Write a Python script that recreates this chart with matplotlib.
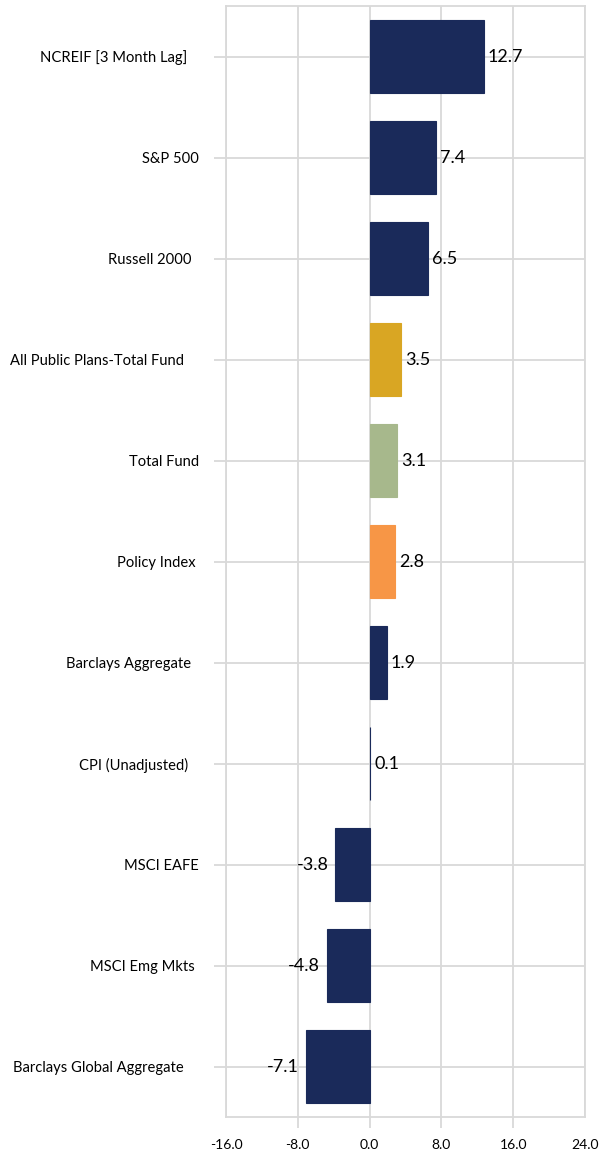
import matplotlib
matplotlib.use("Agg")
import matplotlib.pyplot as plt

# ---------------------------------------------------------------------------
# Data (top to bottom)
# ---------------------------------------------------------------------------
categories = [
    "NCREIF [3 Month Lag]   ",
    "S&P 500",
    "Russell 2000  ",
    "All Public Plans-Total Fund    ",
    "Total Fund",
    "Policy Index ",
    "Barclays Aggregate  ",
    "CPI (Unadjusted)   ",
    "MSCI EAFE",
    "MSCI Emg Mkts ",
    "Barclays Global Aggregate    ",
]
values = [12.7, 7.4, 6.5, 3.5, 3.1, 2.8, 1.9, 0.1, -3.8, -4.8, -7.1]
bar_colors = [
    "#1a2a5a", "#1a2a5a", "#1a2a5a", "#d9a623", "#a7b88c", "#f79646",
    "#1a2a5a", "#1a2a5a", "#1a2a5a", "#1a2a5a", "#1a2a5a",
]
x_ticks = [-16, -8, 0, 8, 16, 24]

GRID = "#d9d9d9"
plt.rcParams["font.family"] = ["Lato", "DejaVu Sans"]

fig = plt.figure(figsize=(5.99, 11.58), dpi=100)
ax = fig.add_axes([0.3773, 0.0354, 0.5993, 0.9594])

ypos = list(range(len(categories)))
ax.barh(ypos, values, height=0.73, color=bar_colors, edgecolor=bar_colors,
        linewidth=0.8, zorder=3)

for y, v in zip(ypos, values):
    if v >= 0:
        ax.annotate(f"{v:.1f}", (v, y), xytext=(3, 0), textcoords="offset points",
                    ha="left", va="center", fontsize=13, color="#000000", zorder=4)
    else:
        ax.annotate(f"{v:.1f}", (v, y), xytext=(-5, 0), textcoords="offset points",
                    ha="right", va="center", fontsize=13, color="#000000", zorder=4)

ax.set_xlim(-16, 24)
ax.set_ylim(len(categories) - 0.5, -0.5)
ax.set_xticks(x_ticks)
ax.set_xticklabels([f"{t:.1f}" for t in x_ticks], fontsize=10)
ax.set_yticks(ypos)
ax.set_yticklabels(categories, fontsize=10.6)

ax.grid(True, color=GRID, linewidth=1.3, zorder=0)
for s in ax.spines.values():
    s.set_color(GRID)
    s.set_linewidth(1.3)

ax.tick_params(axis="y", length=8.5, width=1.3, color=GRID, pad=11)
ax.tick_params(axis="x", length=8, width=1.3, color=GRID, pad=8)
xt = ax.xaxis.get_major_ticks()
xt[0].tick1line.set_visible(False)
xt[-1].tick1line.set_visible(False)

fig.savefig("out.png", dpi=100)
